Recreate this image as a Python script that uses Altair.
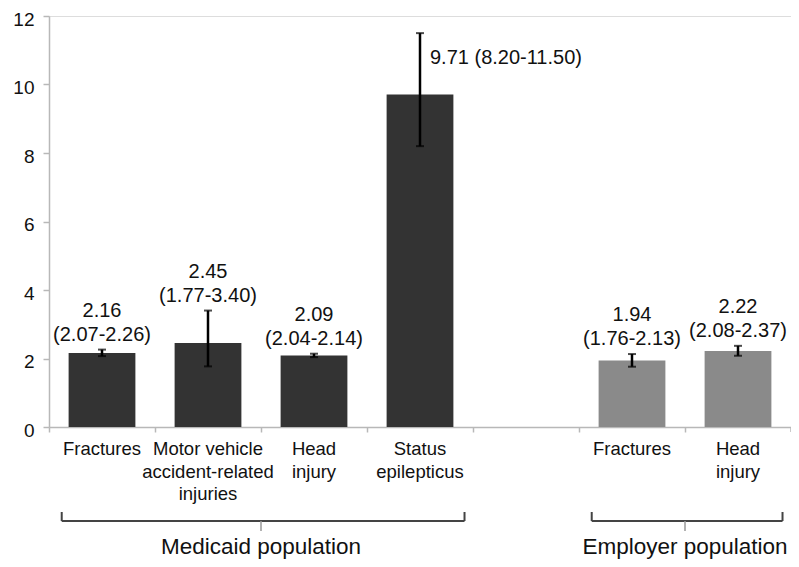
import altair as alt
import pandas as pd

# ---- data ----
populations = ["Medicaid", "Medicaid", "Medicaid", "Medicaid", "Employer", "Employer"]
categories = ["Fractures", "Motor vehicle\naccident-related\ninjuries", "Head\ninjury",
              "Status\nepilepticus", "Fractures", "Head\ninjury"]
estimates = [2.16, 2.45, 2.09, 9.71, 1.94, 2.22]
lower = [2.07, 1.77, 2.04, 8.20, 1.76, 2.08]
upper = [2.26, 3.40, 2.14, 11.50, 2.13, 2.37]
y_ticks = [0, 2, 4, 6, 8, 10, 12]
group_names = ["Medicaid population", "Employer population"]
group_keys = ["Medicaid", "Employer"]

# ---- tables built from the arrays ----
keys = [f"{p}|{c.replace(chr(10), ' ')}" for p, c in zip(populations, categories)]
domain = keys[:4] + ["gap"] + keys[4:]

labels = []
for c, e, l, u in zip(categories, estimates, lower, upper):
    if c.startswith("Status"):
        labels.append(f"{e:.2f} ({l:.2f}-{u:.2f})")
    else:
        labels.append(f"{e:.2f}\n({l:.2f}-{u:.2f})")

df = pd.DataFrame({
    "key": keys, "population": populations, "category": categories,
    "estimate": estimates, "lower": lower, "upper": upper, "label": labels,
    "status": [c.startswith("Status") for c in categories],
})

b_start, b_end, b_mid = [], [], []
for g in group_keys:
    ks = [k for k in keys if k.startswith(g + "|")]
    b_start.append(ks[0])
    b_end.append(ks[-1])
    b_mid.append(ks[len(ks) // 2])
brackets = pd.DataFrame({"start": b_start, "end": b_end, "mid": b_mid, "name": group_names})
last_key = pd.DataFrame({"key": [domain[-1]]})

W, H = 742, 411
FONT = "Liberation Sans"
AX = "#b8b8b8"

xscale = alt.Scale(domain=domain, paddingInner=0, paddingOuter=0)
yscale = alt.Scale(domain=[0, 12], nice=False)
X = alt.X("key:N", scale=xscale, sort=domain)

base = alt.Chart(df)

bars = base.mark_bar(width=alt.RelativeBandSize(0.63)).encode(
    x=alt.X("key:N", scale=xscale, sort=domain,
            axis=alt.Axis(title=None, labels=False, bandPosition=0, tickSize=5,
                          domainColor=AX, tickColor=AX, domainWidth=1.5, tickWidth=1.5)),
    y=alt.Y("estimate:Q", scale=yscale,
            axis=alt.Axis(values=y_ticks, grid=False, title=None, tickSize=6,
                          labelFontSize=19, labelPadding=9, labelColor="#111111",
                          labelFont=FONT, labelOffset=3, domainColor=AX, tickColor=AX,
                          domainWidth=1.5, tickWidth=1.5)),
    color=alt.Color("population:N", legend=None,
                    scale=alt.Scale(domain=["Medicaid", "Employer"],
                                    range=["#333333", "#8a8a8a"])),
)

end_tick = alt.Chart(last_key).mark_rule(color=AX, strokeWidth=1.5).encode(
    x=alt.X("key:N", scale=xscale, sort=domain, bandPosition=1),
    y=alt.value(H), y2=alt.value(H + 5),
)

err = base.mark_rule(color="#000000", strokeWidth=2.5).encode(
    x=X, y="lower:Q", y2="upper:Q",
)
cap_lo = base.mark_tick(color="#000000", size=8, thickness=2, orient="horizontal").encode(
    x=X, y="lower:Q")
cap_hi = base.mark_tick(color="#000000", size=8, thickness=2, orient="horizontal").encode(
    x=X, y="upper:Q")

val_labels = base.transform_filter("!datum.status").mark_text(
    align="center", baseline="bottom", dy=-29, lineBreak="\n", fontSize=20,
    lineHeight=24, font=FONT, color="#111111",
).encode(x=X, y="upper:Q", text="label:N")

status_label = base.transform_filter("datum.status").mark_text(
    align="left", baseline="middle", dx=10, dy=25, fontSize=20, font=FONT, color="#111111",
).encode(x=X, y="upper:Q", text="label:N")

cat_labels = base.mark_text(
    align="center", baseline="top", lineBreak="\n", fontSize=18.5, lineHeight=22.5,
    font=FONT, color="#111111",
).encode(x=X, y=alt.value(H + 13), text="category:N")

bb = alt.Chart(brackets)
BR = "#444444"
br_h = bb.mark_rule(color=BR, strokeWidth=2).encode(
    x=alt.X("start:N", scale=xscale, sort=domain, bandPosition=0.12),
    x2=alt.X2("end:N", bandPosition=0.92),
    y=alt.value(H + 94),
)
br_l = bb.mark_rule(color=BR, strokeWidth=2).encode(
    x=alt.X("start:N", scale=xscale, sort=domain, bandPosition=0.12),
    y=alt.value(H + 85), y2=alt.value(H + 94),
)
br_r = bb.mark_rule(color=BR, strokeWidth=2).encode(
    x=alt.X("end:N", scale=xscale, sort=domain, bandPosition=0.92),
    y=alt.value(H + 85), y2=alt.value(H + 94),
)
br_m = bb.mark_rule(color="#999999", strokeWidth=1.5).encode(
    x=alt.X("mid:N", scale=xscale, sort=domain, bandPosition=0),
    y=alt.value(H + 94), y2=alt.value(H + 104),
)
br_t = bb.mark_text(align="center", baseline="alphabetic", fontSize=22.5, font=FONT,
                    color="#111111").encode(
    x=alt.X("mid:N", scale=xscale, sort=domain, bandPosition=0),
    y=alt.value(H + 127), text="name:N",
)

chart = alt.layer(
    bars, end_tick, err, cap_lo, cap_hi, val_labels, status_label, cat_labels,
    br_h, br_l, br_r, br_m, br_t,
).properties(
    width=W, height=H,
    autosize=alt.AutoSizeParams(type="none"),
    padding={"left": 41, "top": 8, "right": 0, "bottom": 132},
).configure_view(stroke=None).configure(background="white")

chart.save("out.html", embed_options={"renderer": "svg", "actions": False})
